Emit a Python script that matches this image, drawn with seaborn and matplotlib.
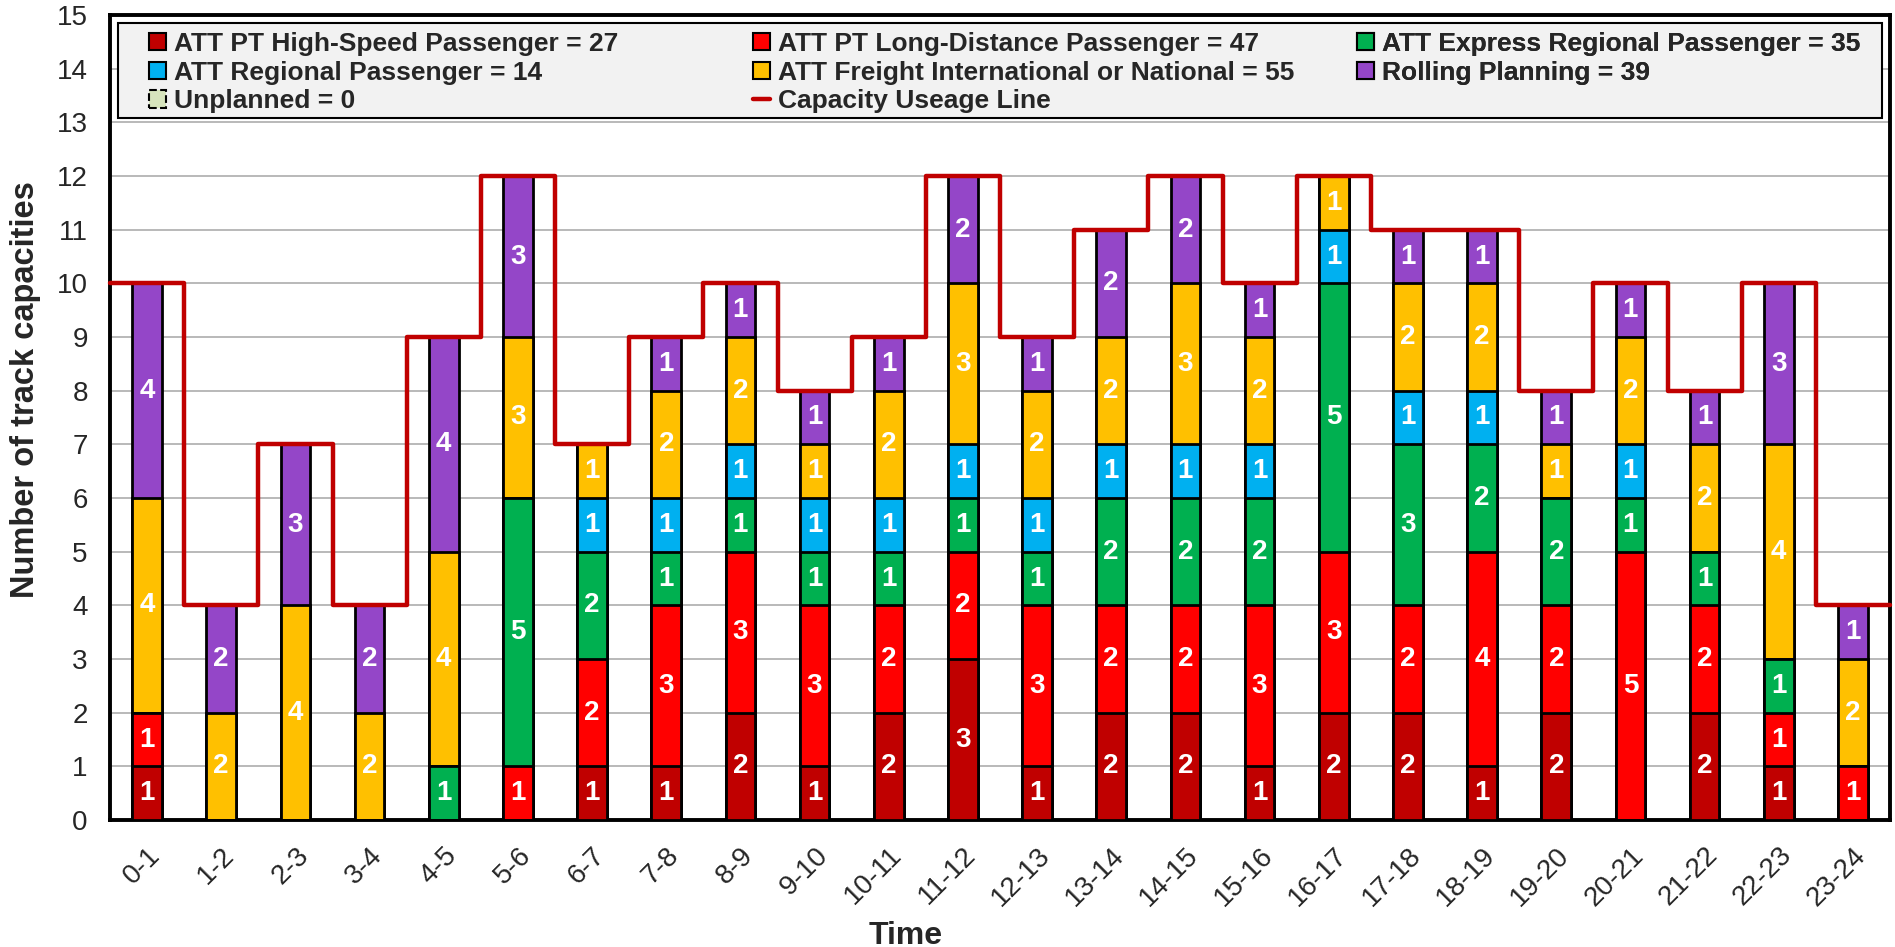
import numpy as np
import pandas as pd
import matplotlib
matplotlib.use("Agg")
import matplotlib.pyplot as plt
import matplotlib.patches as mpatches
from matplotlib.lines import Line2D
import seaborn as sns

# time slots and track capacities per category (bottom -> top)
time_slots = ['0-1', '1-2', '2-3', '3-4', '4-5', '5-6', '6-7', '7-8', '8-9', '9-10',
              '10-11', '11-12', '12-13', '13-14', '14-15', '15-16', '16-17', '17-18',
              '18-19', '19-20', '20-21', '21-22', '22-23', '23-24']
high_speed = [1, 0, 0, 0, 0, 0, 1, 1, 2, 1, 2, 3, 1, 2, 2, 1, 2, 2, 1, 2, 0, 2, 1, 0]
long_distance = [1, 0, 0, 0, 0, 1, 2, 3, 3, 3, 2, 2, 3, 2, 2, 3, 3, 2, 4, 2, 5, 2, 1, 1]
express_regional = [0, 0, 0, 0, 1, 5, 2, 1, 1, 1, 1, 1, 1, 2, 2, 2, 5, 3, 2, 2, 1, 1, 1, 0]
regional = [0, 0, 0, 0, 0, 0, 1, 1, 1, 1, 1, 1, 1, 1, 1, 1, 1, 1, 1, 0, 1, 0, 0, 0]
freight = [4, 2, 4, 2, 4, 3, 1, 2, 2, 1, 2, 3, 2, 2, 3, 2, 1, 2, 2, 1, 2, 2, 4, 2]
rolling = [4, 2, 3, 2, 4, 3, 0, 1, 1, 1, 1, 2, 1, 2, 2, 1, 0, 1, 1, 1, 1, 1, 3, 1]
unplanned = [0] * 24
capacity = [10, 4, 7, 4, 9, 12, 7, 9, 10, 8, 9, 12, 9, 11, 12, 10, 12, 11, 11, 8, 10, 8, 10, 4]

series_names = ['ATT PT High-Speed Passenger', 'ATT PT Long-Distance Passenger',
                'ATT Express Regional Passenger', 'ATT Regional Passenger',
                'ATT Freight International or National', 'Rolling Planning']
series_values = [high_speed, long_distance, express_regional, regional, freight, rolling]
series_colors = ['#c00000', '#ff0000', '#00b050', '#00b0f0', '#ffc000', '#9446c8']

sns.set_style('white')
plt.rcParams['font.family'] = ['Liberation Sans', 'DejaVu Sans']

fig = plt.figure(figsize=(18.95, 9.47), dpi=100)
ax = fig.add_axes([110 / 1895, 127 / 947, 1780 / 1895, 805 / 947])

df = pd.DataFrame(dict(zip(series_names, series_values)))
df['time'] = time_slots
cum = df[series_names].cumsum(axis=1)

# overlay cumulative bars, tallest first
for name, color in reversed(list(zip(series_names, series_colors))):
    sns.barplot(x=df['time'], y=cum[name], color=color, width=0.4,
                edgecolor='black', linewidth=2.0, saturation=1, ax=ax, zorder=3)

# segment labels
for j, name in enumerate(series_names):
    bottoms = cum[name] - df[name]
    for i, v in enumerate(df[name]):
        if v > 0:
            ax.text(i, bottoms[i] + v / 2, str(v), ha='center', va='center',
                    color='white', fontsize=20, fontweight='bold', zorder=5)

# capacity step line
edges = np.arange(len(time_slots) + 1) - 0.5
ax.step(edges, capacity + [capacity[-1]], where='post', color='#c00000',
        linewidth=3.2, zorder=4, clip_on=False)

ax.set_xlim(-0.5, len(time_slots) - 0.5)
ax.set_ylim(0, 15)
ax.set_yticks(range(0, 16))
ax.yaxis.grid(True, color='#b3b3b3', linewidth=1.3, zorder=0)
ax.set_axisbelow(True)

ax.set_xticks(range(len(time_slots)))
ax.set_xticklabels(time_slots, rotation=45, ha='right', rotation_mode='anchor')
ax.set_xticks(edges, minor=True)
ax.tick_params(axis='x', which='major', length=0, labelsize=20, pad=16)
ax.tick_params(axis='x', which='minor', length=7, width=1.2, color='#555555')
ax.tick_params(axis='y', length=7, width=1.2, color='#555555', labelsize=20, pad=9)

for sp in ax.spines.values():
    sp.set_linewidth(2.8)
    sp.set_color('black')

ax.set_xlabel('Time', fontsize=23, fontweight='bold')
ax.set_ylabel('Number of track capacities', fontsize=23.5, fontweight='bold')
ax.xaxis.set_label_coords(0.447, -0.125)
ax.yaxis.set_label_coords(-0.039, 0.535)

# legend: a grey box with three columns of entries
patches = [mpatches.Patch(facecolor=c, edgecolor='black', linewidth=1.5,
                          label=f'{n} = {sum(v)}')
           for n, v, c in zip(series_names, series_values, series_colors)]
unplanned_patch = mpatches.Patch(facecolor='#d7e4bd', edgecolor='black', linewidth=1.5,
                                 linestyle='--', label=f'Unplanned = {sum(unplanned)}')
cap_line = Line2D([], [], color='#c00000', linewidth=3.2, label='Capacity Useage Line')

box = mpatches.Rectangle((0.0045, 0.872), 0.991, 0.118, transform=ax.transAxes,
                         facecolor='#f2f2f2', edgecolor='black', linewidth=1.5,
                         zorder=6, clip_on=False)
ax.add_patch(box)

columns = [[patches[0], patches[3], unplanned_patch],
           [patches[1], patches[4], cap_line],
           [patches[2], patches[5]]]
col_x = [0.0219, 0.3612, 0.7006]
for x0, col in zip(col_x, columns):
    leg = ax.legend(handles=col, loc='upper left', bbox_to_anchor=(x0, 0.979),
                    borderaxespad=0, borderpad=0, frameon=False,
                    prop={'size': 19, 'weight': 'bold'}, handlelength=0.65,
                    handleheight=0.65, handletextpad=0.3, labelspacing=0.18)
    leg.set_zorder(7)
    ax.add_artist(leg)

fig.savefig('out.png', dpi=100, facecolor='white')
